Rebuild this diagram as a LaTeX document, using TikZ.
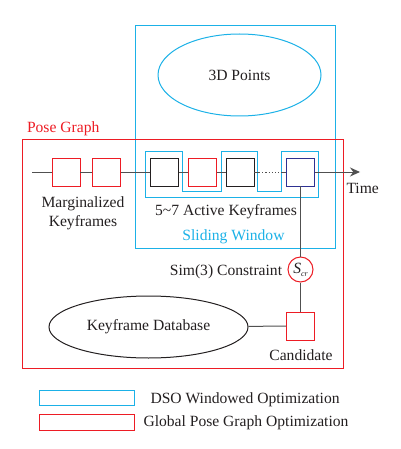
\documentclass[tikz,border=0pt]{standalone}
\usepackage{fontspec}
\setmainfont{Liberation Serif}
\newfontfamily\tms{Liberation Serif}
\usepackage{xcolor}
\usepackage{tikz}
\usetikzlibrary{shapes,arrows.meta}
\definecolor{pgred}{RGB}{237,28,36}
\definecolor{dsoblue}{RGB}{27,177,231}
\definecolor{kfnavy}{RGB}{46,49,146}
\definecolor{lgray}{RGB}{80,80,80}
\definecolor{txt}{RGB}{35,31,32}
\tikzset{
  kf/.style={draw=#1,fill=white,line width=0.9pt,minimum size=28pt,inner sep=0pt},
  lbl/.style={inner sep=0pt,text=txt,font=\tms\fontsize{15.6pt}{19pt}\selectfont},
}

\begin{document}
\begin{tikzpicture}[x=1pt,y=-1pt,line width=1pt]
\useasboundingbox (0,0) rectangle (400,449);
% the two windows
\draw[dsoblue] (135,26) rectangle (335,248);
\draw[pgred] (22,140) rectangle (343,368);
\node[lbl,anchor=base west,text=pgred] (pglbl) at (26.5,133) {Pose Graph};
%
\node[lbl,draw=dsoblue,ellipse,minimum width=163pt,minimum height=82pt] (pts) at (239.5,75) {3D Points};
\node[lbl,draw=txt,ellipse,minimum width=199pt,minimum height=62pt] (db) at (148.5,327) {Keyframe Database};
%
\draw[dsoblue] (145,151.7) -- (182.7,151.7) -- (182.7,191.7) -- (221,191.7) -- (221,151.7)
  -- (257.7,151.7) -- (257.7,191.7) -- (281.7,191.7) -- (281.7,151.7) -- (318.3,151.7)
  -- (318.3,197.3) -- (145,197.3) -- cycle;
%
\coordinate (t0) at (32,172);
\coordinate (d0) at (259,172);
\coordinate (d1) at (281,172);
\coordinate (tend) at (360,172);
\node[kf=pgred] (m1) at (66,172) {};
\node[kf=pgred] (m2) at (106.5,172) {};
\node[kf=txt] (a1) at (164.7,172) {};
\node[kf=pgred] (a2) at (202.7,172) {};
\node[kf=txt] (a3) at (240,172) {};
\node[kf=kfnavy] (a4) at (300.5,172) {};
\draw[lgray] (t0) -- (m1) -- (m2) -- (a1) -- (a2) -- (a3) -- (d0);
\draw[lgray,dash pattern=on 1.2pt off 2pt] (d0) -- (d1);
\draw[lgray] (d1) -- (a4);
\draw[lgray,-{Stealth[length=10pt,width=9pt]}] (a4) -- (tend);
%
\node[lbl,anchor=base west] (time) at (346,193) {Time};
\node[lbl,anchor=base] (marg) at (83,207) {Marginalized};
\node[lbl,anchor=base] (kfs) at (83,226) {Keyframes};
\node[lbl,anchor=base] (act) at (226,215) {5\textasciitilde7 Active Keyframes};
\node[lbl,anchor=base,text=dsoblue] (slw) at (233.5,240.5) {Sliding Window};
%
\node[lbl,circle,draw=pgred,fill=white,minimum size=25pt] (scr) at (300.5,269.5)
  {\textit{S}\raisebox{-0.45ex}{\fontsize{8pt}{8pt}\selectfont\textit{cr}}};
\node[kf=pgred] (cand) at (300.5,326) {};
\draw[lgray] (a4) -- (scr);
\draw[lgray] (scr) -- (cand);
\draw[lgray] (db) -- (cand);
\node[lbl,anchor=base] (sim) at (226,275) {Sim(3) Constraint};
\node[lbl,anchor=base] (candlbl) at (301,360) {Candidate};
%
% legend
\draw[dsoblue] (39,390.7) rectangle (134,405.7);
\draw[pgred] (39,414) rectangle (134,430);
\node[lbl,anchor=base west] (lg1) at (150,403.3) {DSO Windowed Optimization};
\node[lbl,anchor=base west] (lg2) at (143,426.7) {Global Pose Graph Optimization};
\end{tikzpicture}
\end{document}
